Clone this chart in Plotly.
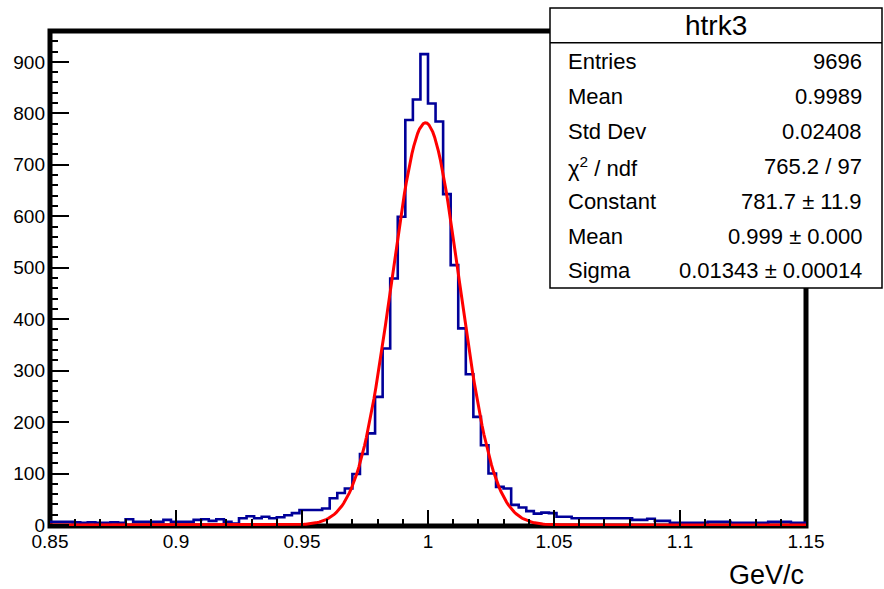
import numpy as np
import plotly.graph_objects as go

# ---------------- data ----------------
X_MIN, X_MAX, N_BINS = 0.85, 1.15, 100

counts = [
    6, 6, 6, 5, 4, 5, 4, 4, 5, 4,            # 0.850 - 0.880
    11, 6, 6, 6, 6, 10, 6, 6, 6, 10,         # 0.880 - 0.910
    11, 8, 11, 6, 3, 13, 17, 13, 16, 13,     # 0.910 - 0.940
    15, 19, 23, 29, 29, 29, 32, 52, 62, 71,  # 0.940 - 0.970
    99, 138, 178, 249, 343, 479, 599, 787, 827, 915,   # 0.970 - 1.000
    819, 784, 643, 505, 382, 293, 210, 155, 100, 74,   # 1.000 - 1.030
    71, 39, 34, 27, 22, 24, 23, 16, 16, 13,  # 1.030 - 1.060
    13, 13, 13, 13, 13, 13, 13, 10, 10, 12,  # 1.060 - 1.090
    8, 8, 4, 4, 4, 4, 4, 6, 6, 6,            # 1.090 - 1.120
    4, 4, 4, 4, 4, 6, 6, 6, 4, 4,            # 1.120 - 1.150
]

FIT_CONSTANT = 781.7
FIT_MEAN = 0.999
FIT_SIGMA = 0.01343

x_tick_vals = [0.85, 0.9, 0.95, 1.0, 1.05, 1.1, 1.15]
x_tick_text = ["0.85", "0.9", "0.95", "1", "1.05", "1.1", "1.15"]
y_tick_vals = [0, 100, 200, 300, 400, 500, 600, 700, 800, 900]
y_tick_text = ["0", "100", "200", "300", "400", "500", "600", "700", "800", "900"]

x_title = "GeV/c"
stats_title = "htrk3"
stats_labels = ["Entries", "Mean", "Std Dev", "χ<sup>2</sup> / ndf",
                "Constant", "Mean", "Sigma"]
stats_values = ["9696", "0.9989", "0.02408", "765.2 / 97",
                "781.7 ± 11.9", "0.999 ± 0.000", "0.01343 ± 0.00014"]

# ---------------- geometry (pixels) ----------------
W, H = 884, 589
PL, PR, PT, PB = 50, 806, 31, 526
FONT = "Liberation Sans, Arial, Helvetica, sans-serif"


def px2x(px):
    return (px - PL) / (PR - PL)


def py2y(py):
    return (PB - py) / (PB - PT)


# ---------------- traces ----------------
edges = np.linspace(X_MIN, X_MAX, N_BINS + 1)
step_y = list(counts) + [counts[-1]]

fig = go.Figure()
fig.add_trace(go.Scatter(
    x=edges, y=step_y, mode="lines",
    line=dict(color="#000099", width=2.6, shape="hv"),
    hoverinfo="skip", showlegend=False,
))

xf = np.linspace(X_MIN, X_MAX, 400)
yf = FIT_CONSTANT * np.exp(-0.5 * ((xf - FIT_MEAN) / FIT_SIGMA) ** 2)
fig.add_trace(go.Scatter(
    x=xf, y=yf, mode="lines",
    line=dict(color="#ff0000", width=3),
    hoverinfo="skip", showlegend=False,
))

# ---------------- layout ----------------
fig.update_layout(
    width=W, height=H,
    margin=dict(l=PL, r=W - PR, t=PT, b=H - PB, pad=0),
    paper_bgcolor="white", plot_bgcolor="white",
    font=dict(family=FONT, color="black"),
    hovermode=False,
    showlegend=False,
)

fig.update_xaxes(
    range=[X_MIN, X_MAX],
    tickmode="array", tickvals=x_tick_vals, ticktext=x_tick_text,
    ticks="inside", ticklen=16, tickwidth=2, tickcolor="black",
    minor=dict(ticks="inside", ticklen=7, tickwidth=2, tickcolor="black",
               tickmode="linear", tick0=X_MIN, dtick=0.01, showgrid=False),
    showgrid=False, zeroline=False, showline=False,
    tickfont=dict(size=19, family=FONT, color="black"),
    ticklabelstandoff=2,
)
fig.update_yaxes(
    range=[-2, 960],
    tickmode="array", tickvals=y_tick_vals, ticktext=y_tick_text,
    ticks="inside", ticklen=19, tickwidth=2, tickcolor="black",
    minor=dict(ticks="inside", ticklen=8, tickwidth=2, tickcolor="black",
               tickmode="linear", tick0=0, dtick=20, showgrid=False),
    showgrid=False, zeroline=False, showline=False,
    tickfont=dict(size=19, family=FONT, color="black"),
    ticklabelstandoff=4,
)

shapes = [
    # frame
    dict(type="rect", xref="paper", yref="paper", x0=0, x1=1, y0=0, y1=1,
         line=dict(color="black", width=5), fillcolor="rgba(0,0,0,0)", layer="below"),
    # stats box
    dict(type="rect", xref="paper", yref="paper",
         x0=px2x(550), x1=px2x(882), y0=py2y(288), y1=py2y(8),
         line=dict(color="black", width=1.5), fillcolor="white", layer="above"),
    dict(type="line", xref="paper", yref="paper",
         x0=px2x(550), x1=px2x(882), y0=py2y(42.7), y1=py2y(42.7),
         line=dict(color="black", width=1.5), layer="above"),
]
fig.update_layout(shapes=shapes)

annotations = [
    dict(text=x_title, xref="paper", yref="paper", x=px2x(806), y=py2y(575),
         xanchor="right", yanchor="middle", showarrow=False,
         font=dict(size=27, family=FONT, color="black")),
    dict(text=stats_title, xref="paper", yref="paper", x=px2x(716), y=py2y(26),
         xanchor="center", yanchor="middle", showarrow=False,
         font=dict(size=28, family=FONT, color="black")),
]
row_y = [61.7, 96.7, 131.7, 166.7, 201.7, 236.0, 270.0]
for lab, val, ry in zip(stats_labels, stats_values, row_y):
    annotations.append(dict(text=lab, xref="paper", yref="paper", x=px2x(566), y=py2y(ry),
                            xanchor="left", yanchor="middle", showarrow=False,
                            font=dict(size=22, family=FONT, color="black")))
    annotations.append(dict(text=val, xref="paper", yref="paper", x=px2x(864), y=py2y(ry),
                            xanchor="right", yanchor="middle", showarrow=False,
                            font=dict(size=22, family=FONT, color="black")))
fig.update_layout(annotations=annotations)

fig.write_html("out.html", config={"displayModeBar": False},
               post_script="document.body.style.margin='0px';")
